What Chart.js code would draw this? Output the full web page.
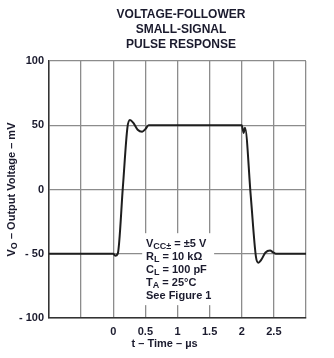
<!DOCTYPE html>
<html>
<head>
<meta charset="utf-8">
<script src="https://cdn.jsdelivr.net/npm/chart.js@4"></script>
<style>
  html, body { margin: 0; padding: 0; background: #fff; }
  canvas { display: block; }
</style>
</head>
<body>
<canvas id="pulseChart" width="334" height="358"></canvas>
<script>
// waveform (time in us, output in mV)
var timeUs = [-1, 0, 0.03, 0.07, 0.15, 0.22, 0.26, 0.31, 0.38, 0.45, 0.5, 0.55,
              2.0, 2.03, 2.05, 2.14, 2.22, 2.26, 2.3, 2.37, 2.44, 2.49, 2.53, 3];
var outputMv = [-50, -50, -51.5, -50, 2, 48, 54, 52, 46.5, 45, 47, 50,
                50, 44, 48, -5, -52, -57, -55, -49, -47.5, -49, -50, -50];

var titleLines = ["VOLTAGE-FOLLOWER", "SMALL-SIGNAL", "PULSE RESPONSE"];
var xTickLabels = ["0", "0.5", "1", "1.5", "2", "2.5"];
var yTickLabels = { "100": "100", "50": "50", "0": "0", "-50": "- 50", "-100": "- 100" };

// conditions box, each line split into normal / subscript parts
var conditions = [
    [{ t: "V" }, { t: "CC\u00b1", sub: true }, { t: " = \u00b15 V" }],
    [{ t: "R" }, { t: "L", sub: true }, { t: " = 10 k\u03a9" }],
    [{ t: "C" }, { t: "L", sub: true }, { t: " = 100 pF" }],
    [{ t: "T" }, { t: "A", sub: true }, { t: " = 25\u00b0C" }],
    [{ t: "See Figure 1" }]
];
var yTitle = [{ t: "V" }, { t: "O", sub: true }, { t: " \u2013 Output Voltage \u2013 mV" }];
var xTitle = "t \u2013 Time \u2013 \u00b5s";

var textColor = "#1b1b2e";
var fontFam = "'Liberation Sans', Arial, sans-serif";

function richWidth(ctx, parts, size, subSize) {
    var w = 0;
    parts.forEach(function (p) {
        ctx.font = "bold " + (p.sub ? subSize : size) + "px " + fontFam;
        w += ctx.measureText(p.t).width;
    });
    return w;
}

function drawRich(ctx, parts, x, y, size, subSize) {
    parts.forEach(function (p) {
        ctx.font = "bold " + (p.sub ? subSize : size) + "px " + fontFam;
        ctx.fillText(p.t, x, p.sub ? y + 3 : y);
        x += ctx.measureText(p.t).width;
    });
}

var extrasPlugin = {
    id: "extras",
    afterDatasetsDraw: function (chart) {
        var ctx = chart.ctx;
        var xs = chart.scales.x, ys = chart.scales.y;
        ctx.save();

        // title, centred a bit right of the canvas like the original
        ctx.fillStyle = textColor;
        ctx.textAlign = "center";
        ctx.textBaseline = "middle";
        ctx.font = "bold 12px " + fontFam;
        titleLines.forEach(function (line, i) {
            ctx.fillText(line, 181, 15 + i * 15);
        });

        // white box behind the conditions
        var bx = xs.getPixelForValue(0.45), by = ys.getPixelForValue(-34);
        var bw = xs.getPixelForValue(1.57) - bx, bh = ys.getPixelForValue(-90) - by;
        ctx.fillStyle = "#fff";
        ctx.fillRect(bx, by, bw, bh);

        ctx.fillStyle = textColor;
        ctx.textAlign = "left";
        var tx = xs.getPixelForValue(0.51);
        var ty = ys.getPixelForValue(-42);
        conditions.forEach(function (line, i) {
            drawRich(ctx, line, tx, ty + i * 13, 11, 9);
        });

        // y axis title, rotated
        ctx.translate(12, (chart.chartArea.top + chart.chartArea.bottom) / 2);
        ctx.rotate(-Math.PI / 2);
        var w = richWidth(ctx, yTitle, 11, 9);
        drawRich(ctx, yTitle, -w / 2, 0, 11, 9);
        ctx.setTransform(1, 0, 0, 1, 0, 0);

        // x axis title
        ctx.textAlign = "center";
        ctx.font = "bold 11px " + fontFam;
        ctx.fillText(xTitle, xs.getPixelForValue(0.8), 344);
        ctx.restore();
    }
};

var points = timeUs.map(function (t, i) { return { x: t, y: outputMv[i] }; });

var ctx = document.getElementById("pulseChart").getContext("2d");
var pulseChart = new Chart(ctx, {
    type: "scatter",
    data: {
        datasets: [{
            data: points,
            showLine: true,
            borderColor: "#1e1e1e",
            borderWidth: 2,
            pointRadius: 0,
            cubicInterpolationMode: "monotone"
        }]
    },
    options: {
        responsive: false,
        animation: false,
        layout: { padding: { left: 0, right: 28, top: 61, bottom: 0 } },
        plugins: {
            legend: { display: false },
            tooltip: { enabled: false },
            title: { display: false }
        },
        scales: {
            x: {
                type: "linear",
                min: -1,
                max: 3,
                afterFit: function (scale) { scale.height = 40; },
                ticks: {
                    stepSize: 0.5,
                    padding: 7,
                    maxRotation: 0,
                    autoSkip: false,
                    color: textColor,
                    font: { family: fontFam, size: 11, weight: "bold" },
                    callback: function (v) {
                        var s = String(Math.round(v * 10) / 10);
                        return xTickLabels.indexOf(s) >= 0 ? s : "";
                    }
                },
                grid: { color: "#8c8c8c", lineWidth: 1.3, drawTicks: false },
                border: { color: "#333", width: 1.5 }
            },
            y: {
                min: -100,
                max: 100,
                afterFit: function (scale) { scale.width = 49; },
                ticks: {
                    stepSize: 50,
                    padding: 5,
                    color: textColor,
                    font: { family: fontFam, size: 11, weight: "bold" },
                    callback: function (v) { return yTickLabels[String(v)]; }
                },
                grid: { color: "#8c8c8c", lineWidth: 1.3, drawTicks: false },
                border: { color: "#333", width: 1.5 }
            }
        }
    },
    plugins: [extrasPlugin]
});
</script>
</body>
</html>
